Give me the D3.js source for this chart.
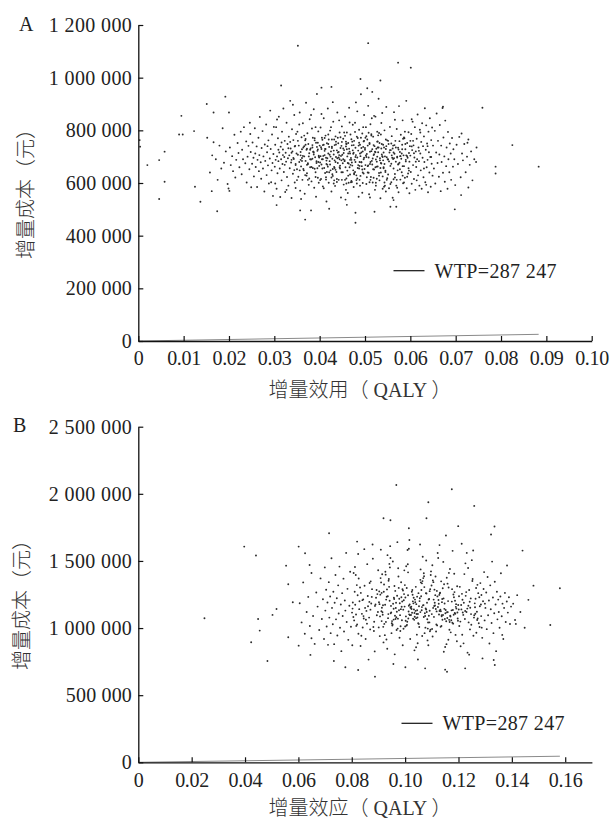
<!DOCTYPE html>
<html>
<head>
<meta charset="utf-8">
<script src="https://cdn.jsdelivr.net/npm/d3@7"></script>
<style>
  body { margin: 0; background: #fff; }
</style>
</head>
<body>
<script>
// willingness-to-pay threshold (yuan per QALY)
const wtp = 287247;

// tick values
const ticksXA = [0, 0.01, 0.02, 0.03, 0.04, 0.05, 0.06, 0.07, 0.08, 0.09, 0.1];
const ticksYA = [0, 200000, 400000, 600000, 800000, 1000000, 1200000];
const ticksXB = [0, 0.02, 0.04, 0.06, 0.08, 0.1, 0.12, 0.14, 0.16];
const ticksYB = [0, 500000, 1000000, 1500000, 2000000, 2500000];

// panel A: [incremental utility (QALY), incremental cost (thousand yuan)]
const pointsA = [
  [0.0352,1121],[0.0507,1131],[0.0573,1057],[0.0601,1038],[0.0490,995],[0.0534,989],[0.0315,970],[0.0505,960],[0.0426,965],[0.0404,962],
  [0.0192,928],[0.0151,900],[0.0759,886],[0.0672,890],[0.0095,855],[0.0166,868],[0.0200,868],[0.0123,797],[0.0090,784],[0.0098,784],
  [0.0825,744],[0.0713,788],[0.0726,753],[0.0745,680],[0.0883,662],[0.0788,662],[0.0788,636],[0.0728,583],[0.0712,554],[0.0698,500],
  [0.0020,668],[0.0004,738],[0.0003,763],[0.0058,719],[0.0046,687],[0.0058,605],[0.0046,539],[0.0125,586],[0.0137,529],[0.0174,493],
  [0.0162,569],[0.0199,579],[0.0201,570],[0.0368,461],[0.0479,449],[0.0479,487],[0.0381,496],[0.0357,496],[0.0421,502],[0.0460,517],
  [0.0521,491],[0.0556,510],[0.0569,510],[0.0563,535],[0.0305,516],
  [0.0152,772],[0.0158,640],[0.0163,705],[0.0166,755],[0.0171,690],[0.0175,612],[0.0179,742],[0.0183,655],[0.0186,808],[0.0189,677],[0.0193,720],[0.0197,596],
  [0.0202,735],[0.0204,668],[0.0207,702],[0.0209,645],[0.0212,783],[0.0214,621],[0.0216,688],[0.0219,752],[0.0221,714],[0.0223,660],[0.0226,795],[0.0228,633],
  [0.0229,726],[0.0231,690],[0.0233,812],[0.0236,675],[0.0238,758],[0.0239,602],[0.0241,700],[0.0243,741],[0.0245,652],[0.0247,786],[0.0248,718],[0.0249,584],[0.0246,829],
  [0.0251,673],[0.0252,754],[0.0254,696],[0.0255,625],[0.0257,808],[0.0258,712],[0.0259,661],[0.0261,739],[0.0262,585],[0.0263,688],[0.0265,772],[0.0266,645],
  [0.0267,706],[0.0268,851],[0.0270,679],[0.0271,616],[0.0272,733],[0.0274,797],[0.0275,655],[0.0276,701],[0.0278,568],[0.0279,746],[0.0280,684],[0.0282,822],
  [0.0283,630],[0.0284,717],[0.0286,667],[0.0287,762],[0.0288,598],[0.0290,693],[0.0291,875],[0.0292,729],[0.0294,648],[0.0295,784],[0.0296,676],[0.0297,551],
  [0.0298,710],[0.0299,813],[0.0293,603],[0.0285,740],
  [0.0301,662],[0.0302,745],[0.0303,688],[0.0304,812],[0.0305,578],[0.0306,701],[0.0307,637],[0.0308,770],[0.0309,683],[0.0310,852],[0.0311,716],[0.0312,655],
  [0.0313,547],[0.0314,738],[0.0315,690],[0.0316,610],[0.0317,795],[0.0318,672],[0.0319,727],[0.0320,883],[0.0321,642],[0.0322,699],[0.0323,760],[0.0324,566],
  [0.0325,715],[0.0326,681],[0.0327,829],[0.0328,623],[0.0329,748],[0.0330,694],[0.0331,590],[0.0332,776],[0.0333,705],[0.0334,656],[0.0335,912],[0.0336,731],
  [0.0337,678],[0.0338,543],[0.0339,804],[0.0340,720],[0.0341,635],[0.0342,763],[0.0343,691],[0.0344,858],[0.0345,602],[0.0346,741],[0.0347,668],[0.0348,786],
  [0.0349,712],[0.0302,598],[0.0309,726],[0.0316,754],[0.0323,669],[0.0331,732],[0.0338,688],[0.0344,649],[0.0306,841],[0.0327,574],[0.0341,897],[0.0319,706],
  [0.0335,756],[0.0347,581],
  [0.0350,652],[0.0351,795],[0.0352,707],[0.0353,624],[0.0354,742],[0.0355,680],[0.0356,868],[0.0357,571],[0.0358,718],[0.0359,663],[0.0360,774],[0.0361,695],
  [0.0362,612],[0.0363,827],[0.0364,735],[0.0365,648],[0.0366,701],[0.0367,559],[0.0368,762],[0.0369,684],[0.0370,905],[0.0371,726],[0.0372,637],[0.0373,789],
  [0.0374,671],[0.0375,748],[0.0376,593],[0.0377,713],[0.0378,842],[0.0379,660],[0.0380,731],[0.0381,689],[0.0382,606],[0.0383,807],[0.0384,744],[0.0385,657],
  [0.0386,719],[0.0387,880],[0.0388,582],[0.0389,770],[0.0390,698],[0.0391,641],[0.0392,753],[0.0393,676],[0.0394,938],[0.0395,722],[0.0396,620],[0.0397,796],
  [0.0398,704],[0.0399,665],[0.0352,760],[0.0358,688],[0.0363,703],[0.0369,745],[0.0374,612],[0.0379,726],[0.0384,692],[0.0389,654],[0.0394,737],[0.0398,601],
  [0.0355,822],[0.0366,780],[0.0372,669],[0.0381,858],[0.0387,716],[0.0392,548],[0.0397,680],[0.0361,728],[0.0376,701],[0.0385,772],[0.0359,539],[0.0391,812],
  [0.0368,630],[0.0396,753],
  [0.0400,742],[0.0401,678],[0.0402,811],[0.0403,615],[0.0404,729],[0.0405,690],[0.0406,764],[0.0407,587],[0.0408,703],[0.0409,846],[0.0410,657],[0.0411,722],
  [0.0412,638],[0.0413,780],[0.0414,696],[0.0415,530],[0.0416,751],[0.0417,669],[0.0418,883],[0.0419,712],[0.0420,601],[0.0421,737],[0.0422,683],[0.0423,799],
  [0.0424,648],[0.0425,720],[0.0426,568],[0.0427,765],[0.0428,692],[0.0429,627],[0.0430,833],[0.0431,708],[0.0432,661],[0.0433,744],[0.0434,589],[0.0435,777],
  [0.0436,699],[0.0437,642],[0.0438,724],[0.0439,868],[0.0440,676],[0.0441,751],[0.0442,612],[0.0443,706],[0.0444,792],[0.0445,655],[0.0446,733],[0.0447,545],
  [0.0448,686],[0.0449,815],[0.0402,702],[0.0406,655],[0.0411,771],[0.0414,613],[0.0419,748],[0.0423,670],[0.0427,733],[0.0431,598],[0.0436,757],[0.0440,716],
  [0.0444,660],[0.0448,741],[0.0404,862],[0.0409,580],[0.0417,694],[0.0425,812],[0.0433,686],[0.0438,604],[0.0446,774],[0.0413,729],[0.0421,641],[0.0429,907],
  [0.0442,697],[0.0407,744],[0.0435,650],[0.0449,612],[0.0415,672],[0.0432,765],[0.0426,621],[0.0443,838],
  [0.0450,707],[0.0451,641],[0.0452,768],[0.0453,594],[0.0454,725],[0.0455,683],[0.0456,852],[0.0457,660],[0.0458,739],[0.0459,617],[0.0460,792],[0.0461,701],
  [0.0462,562],[0.0463,752],[0.0464,674],[0.0465,886],[0.0466,719],[0.0467,632],[0.0468,784],[0.0469,695],[0.0470,608],[0.0471,743],[0.0472,666],[0.0473,821],
  [0.0474,711],[0.0475,585],[0.0476,760],[0.0477,688],[0.0478,642],[0.0479,734],[0.0480,906],[0.0481,611],[0.0482,776],[0.0483,697],[0.0484,657],[0.0485,723],
  [0.0486,548],[0.0487,802],[0.0488,680],[0.0489,745],[0.0490,627],[0.0491,937],[0.0492,716],[0.0493,664],[0.0494,788],[0.0495,600],[0.0496,737],[0.0497,690],
  [0.0498,858],[0.0499,653],[0.0452,690],[0.0456,612],[0.0460,728],[0.0464,601],[0.0468,669],[0.0472,757],[0.0476,633],[0.0480,706],[0.0484,771],[0.0488,612],
  [0.0492,679],[0.0496,812],[0.0454,792],[0.0458,574],[0.0466,830],[0.0470,688],[0.0474,648],[0.0478,829],[0.0482,598],[0.0486,742],[0.0490,702],[0.0494,563],
  [0.0498,760],[0.0462,676],[0.0471,604],[0.0479,680],[0.0487,655],[0.0495,720],[0.0459,748],[0.0467,712],[0.0483,872],[0.0491,772],[0.0475,715],[0.0457,537],
  [0.0489,590],[0.0497,636],
  [0.0500,733],[0.0501,668],[0.0502,812],[0.0503,596],[0.0504,710],[0.0505,765],[0.0506,640],[0.0507,893],[0.0508,697],[0.0509,557],[0.0510,748],[0.0511,672],
  [0.0512,823],[0.0513,623],[0.0514,721],[0.0515,684],[0.0516,946],[0.0517,602],[0.0518,776],[0.0519,706],[0.0520,651],[0.0521,740],[0.0522,574],[0.0523,852],
  [0.0524,689],[0.0525,730],[0.0526,616],[0.0527,795],[0.0528,663],[0.0529,717],[0.0530,920],[0.0531,638],[0.0532,752],[0.0533,694],[0.0534,542],[0.0535,784],
  [0.0536,674],[0.0537,708],[0.0538,866],[0.0539,625],[0.0540,745],[0.0541,660],[0.0542,586],[0.0543,800],[0.0544,701],[0.0545,647],[0.0546,729],[0.0547,889],
  [0.0548,612],[0.0549,762],[0.0502,705],[0.0506,742],[0.0510,603],[0.0514,780],[0.0518,652],[0.0522,719],[0.0526,681],[0.0530,735],[0.0534,657],[0.0538,702],
  [0.0542,735],[0.0546,568],[0.0504,622],[0.0508,791],[0.0512,680],[0.0516,728],[0.0520,855],[0.0524,590],[0.0528,758],[0.0532,610],[0.0536,828],[0.0540,686],
  [0.0544,590],[0.0548,698],[0.0511,545],[0.0519,620],[0.0527,700],[0.0535,640],[0.0543,672],[0.0507,667],[0.0515,846],[0.0523,660],[0.0531,790],[0.0539,578],
  [0.0547,740],[0.0501,772],
  [0.0550,690],[0.0551,632],[0.0552,748],[0.0553,580],[0.0554,716],[0.0555,813],[0.0556,665],[0.0557,725],[0.0558,603],[0.0559,778],[0.0560,696],[0.0561,544],
  [0.0562,742],[0.0563,655],[0.0564,869],[0.0565,711],[0.0566,621],[0.0567,760],[0.0568,681],[0.0569,590],[0.0570,805],[0.0571,700],[0.0572,648],[0.0573,734],
  [0.0574,565],[0.0575,892],[0.0576,677],[0.0577,718],[0.0578,613],[0.0579,783],[0.0580,692],[0.0581,641],[0.0582,745],[0.0583,838],[0.0584,599],[0.0585,705],
  [0.0586,664],[0.0587,770],[0.0588,620],[0.0589,728],[0.0590,682],[0.0591,912],[0.0592,580],[0.0593,752],[0.0594,696],[0.0595,636],[0.0596,793],[0.0597,714],
  [0.0598,561],[0.0599,740],[0.0553,682],[0.0558,750],[0.0563,614],[0.0568,735],[0.0573,670],[0.0578,702],[0.0583,664],[0.0588,795],[0.0593,624],[0.0598,681],
  [0.0556,596],[0.0561,731],[0.0566,840],[0.0571,582],[0.0576,759],[0.0581,712],[0.0586,602],[0.0591,705],[0.0596,656],[0.0564,694],[0.0574,727],[0.0584,768],
  [0.0600,704],[0.0601,642],[0.0602,786],[0.0603,597],[0.0604,725],[0.0605,833],[0.0606,668],[0.0607,743],[0.0608,615],[0.0609,697],[0.0610,812],[0.0611,574],
  [0.0612,720],[0.0613,661],[0.0614,768],[0.0615,690],[0.0616,860],[0.0617,629],[0.0618,735],[0.0619,683],[0.0620,590],[0.0621,802],[0.0622,712],[0.0623,648],
  [0.0624,756],[0.0625,578],[0.0626,827],[0.0627,696],[0.0628,740],[0.0629,622],[0.0630,777],[0.0631,680],[0.0632,884],[0.0633,603],[0.0634,726],[0.0635,819],
  [0.0636,660],[0.0637,750],[0.0638,688],[0.0639,565],[0.0640,795],[0.0641,717],[0.0642,640],[0.0643,846],[0.0644,699],[0.0645,586],[0.0646,763],[0.0647,673],
  [0.0648,811],[0.0649,628],[0.0606,760],[0.0614,610],[0.0622,792],[0.0630,655],[0.0638,740],[0.0646,699],[0.0603,842],[0.0619,722],[0.0635,593],
  [0.0650,742],[0.0652,655],[0.0654,798],[0.0655,598],[0.0657,716],[0.0658,864],[0.0660,676],[0.0661,760],[0.0663,624],[0.0664,708],[0.0665,820],[0.0667,569],
  [0.0668,742],[0.0669,680],[0.0671,885],[0.0672,639],[0.0673,773],[0.0675,701],[0.0676,605],[0.0677,837],[0.0679,664],[0.0680,735],[0.0682,578],[0.0683,794],
  [0.0684,690],[0.0686,641],[0.0687,750],[0.0689,712],[0.0690,612],[0.0692,771],[0.0694,662],[0.0695,728],[0.0697,690],[0.0699,592],
  [0.0702,745],[0.0705,672],[0.0708,775],[0.0711,622],[0.0714,712],[0.0716,686],[0.0719,748],[0.0722,641],[0.0725,700],[0.0728,765],[0.0731,669],[0.0734,720],
  [0.0737,610],[0.0741,690],[0.0746,735],
  [0.0447,703],[0.0382,661],[0.0519,744],[0.0463,628],[0.0405,772],[0.0551,689],[0.0338,715],[0.0494,651],[0.0427,738],[0.0578,702],
  [0.0361,684],[0.0512,612],[0.0456,779],[0.0399,697],[0.0541,656],[0.0473,724],[0.0416,642],[0.0589,748],[0.0347,672],[0.0503,699],
  [0.0438,615],[0.0529,781],[0.0372,730],[0.0485,668],[0.0566,634],[0.0411,706],[0.0459,749],[0.0535,676],[0.0391,623],[0.0608,713],
  [0.0444,690],[0.0497,758],[0.0356,648],[0.0523,717],[0.0469,603],[0.0420,765],[0.0574,672],[0.0387,708],[0.0508,639],[0.0452,731],
  [0.0546,765],[0.0433,657],[0.0366,740],[0.0489,712],[0.0597,647],[0.0415,685],[0.0531,628],[0.0478,794],[0.0403,736],[0.0559,705],
  [0.0342,695],[0.0466,660],[0.0517,693],[0.0395,656],[0.0440,772],[0.0582,728],[0.0377,617],[0.0500,726],[0.0455,687],[0.0537,748],
  [0.0424,700],[0.0612,681],[0.0369,767],[0.0481,629],[0.0526,662],[0.0409,745],[0.0463,712],[0.0570,612],[0.0393,683],[0.0514,785],
  [0.0448,641],[0.0555,725],[0.0431,723],[0.0350,611],[0.0492,679],[0.0539,699],[0.0418,662],[0.0586,773],[0.0475,744],[0.0384,735],
  [0.0506,664],[0.0459,598],[0.0562,691],[0.0436,746],[0.0401,611],[0.0528,735],[0.0471,678],[0.0358,705],[0.0593,702],[0.0412,729],
  [0.0545,642],[0.0487,753],[0.0445,666],[0.0379,690],[0.0520,709],[0.0603,739],[0.0428,633],[0.0498,696],[0.0551,760],[0.0465,730],
  [0.0389,762],[0.0533,686],[0.0422,707],[0.0577,652],[0.0483,617],[0.0364,653],[0.0510,752],[0.0451,675],[0.0549,618],[0.0407,690],
  [0.0470,766],[0.0524,601],[0.0435,680],[0.0565,744],[0.0396,727],[0.0495,640],[0.0442,718],[0.0590,688],[0.0374,675],[0.0541,716],
  [0.0479,699],[0.0414,622],[0.0516,670],[0.0458,757],[0.0571,697],[0.0429,653],[0.0345,739],[0.0503,778],[0.0461,647],[0.0536,731],
  [0.0398,700],[0.0583,628],[0.0453,714],[0.0488,665],[0.0419,784],[0.0558,673],[0.0371,628],[0.0511,719],[0.0439,694],[0.0600,760],
  [0.0476,637],[0.0527,757],[0.0404,670],[0.0467,688],[0.0543,602],[0.0386,719],[0.0492,733],[0.0432,610],[0.0563,716],[0.0449,756]
];

// panel B: [incremental effect (QALY), incremental cost (thousand yuan)]
const pointsB = [
  [0.0248,1073],[0.0397,1607],[0.0441,1540],[0.0449,1068],[0.0455,981],[0.0423,894],[0.0484,755],[0.0503,1098],[0.0518,1142],[0.0554,1465],
  [0.0562,1326],[0.0562,932],[0.0579,1192],[0.0601,1607],[0.0601,869],[0.0625,1557],[0.0645,800],[0.0642,1470],[0.0649,924],[0.0715,1706],
  [0.0733,755],[0.0776,708],[0.0824,688],[0.0820,1644],[0.0887,638],[0.0919,1818],[0.0945,1803],[0.0967,2066],[0.1014,1744],[0.1087,1937],
  [0.1080,1818],[0.1175,2034],[0.1259,1910],[0.1199,1759],[0.1335,1756],[0.1322,1697],[0.1440,1577],[0.1382,1466],[0.1481,1316],[0.1580,1297],
  [0.1544,1023],[0.1415,1031],[0.1364,949],[0.1332,762],[0.1336,725],[0.1225,700],[0.1157,675],[0.1150,690],[0.1075,700],[0.1001,708],[0.1240,802],
  [0.0605,1185],[0.0612,1042],[0.0618,1340],[0.0624,958],[0.0631,1120],[0.0637,1232],[0.0643,1015],[0.0649,1410],[0.0655,1090],[0.0661,882],
  [0.0667,1265],[0.0672,1160],[0.0678,985],[0.0683,1370],[0.0688,1068],[0.0692,1215],[0.0696,918],[0.0699,1452],
  [0.0701,1130],[0.0704,1285],[0.0706,1012],[0.0709,1190],[0.0711,875],[0.0714,1342],[0.0716,1078],[0.0719,1235],[0.0721,962],[0.0724,1520],
  [0.0726,1150],[0.0729,1028],[0.0731,1270],[0.0734,880],[0.0736,1188],[0.0739,1395],[0.0741,1065],[0.0744,1222],[0.0746,945],[0.0749,1318],
  [0.0751,1108],[0.0754,1458],[0.0756,1002],[0.0759,1175],[0.0761,828],[0.0764,1260],[0.0766,1090],[0.0769,1368],[0.0771,974],[0.0774,1205],
  [0.0776,1130],[0.0779,1560],[0.0781,1045],[0.0784,1292],[0.0787,912],[0.0791,1166],[0.0794,1420],[0.0797,1010],
  [0.0843,1214],[0.0806,1082],[0.0871,1348],[0.0825,958],[0.0889,1176],[0.0812,1455],[0.0857,1033],[0.0834,1262],[0.0898,1120],[0.0802,872],
  [0.0866,1195],[0.0819,1320],[0.0881,1008],[0.0847,1588],[0.0828,1141],[0.0893,1283],[0.0809,1057],[0.0852,918],[0.0875,1232],[0.0838,1106],
  [0.0815,1395],[0.0861,1162],[0.0886,826],[0.0822,1244],[0.0845,1071],[0.0899,1431],[0.0804,1190],[0.0869,990],[0.0831,1302],[0.0855,1128],
  [0.0879,1517],[0.0817,1016],[0.0840,1208],[0.0894,1095],[0.0863,765],[0.0826,1369],[0.0850,1150],[0.0884,1047],[0.0811,1271],[0.0873,1183],
  [0.0836,943],[0.0858,1476],[0.0801,1115],[0.0891,1226],[0.0820,1027],[0.0867,1336],[0.0844,1089],[0.0878,1622],[0.0813,1174],[0.0833,866],
  [0.0896,1253],[0.0853,1062],[0.0807,1410],[0.0870,1137],[0.0829,1200],[0.0883,978],[0.0848,1315],[0.0816,1101],[0.0860,1239],[0.0887,1165],
  [0.0824,1552],[0.0841,1004],[0.0876,1290],[0.0803,1145],[0.0865,1078],
  [0.0937,1104],[0.0912,1262],[0.0968,985],[0.0904,1178],[0.0985,1341],[0.0951,1052],[0.0926,1419],[0.0993,1137],[0.0919,893],[0.0958,1226],
  [0.0944,1610],[0.0973,1070],[0.0901,1005],[0.0989,1198],[0.0932,1288],[0.0965,1149],[0.0908,1372],[0.0979,928],[0.0947,1165],[0.0922,1031],
  [0.0996,1253],[0.0954,1496],[0.0915,1118],[0.0983,1013],[0.0940,1307],[0.0961,804],[0.0929,1212],[0.0975,1384],[0.0906,1087],[0.0987,1159],
  [0.0949,962],[0.0934,1543],[0.0970,1241],[0.0911,1126],[0.0957,1063],[0.0999,1320],[0.0924,947],[0.0966,1188],[0.0943,1452],[0.0981,1096],
  [0.0903,1273],[0.0952,1019],[0.0917,1170],[0.0991,872],[0.0938,1352],[0.0977,1133],[0.0909,1584],[0.0963,1277],[0.0928,1046],[0.0995,1207],
  [0.0946,1110],[0.0914,1401],[0.0972,996],[0.0935,1237],[0.0984,1141],[0.0956,732],[0.0921,1325],[0.0967,1081],[0.0902,1192],[0.0941,1478],
  [0.0988,1058],[0.0959,1216],[0.0930,915],[0.0976,1299],[0.0913,1151],[0.0950,1036],[0.0997,1430],[0.0925,1174],[0.0962,1092],[0.0939,1365],
  [0.0982,978],[0.0907,1249],[0.0969,1122],[0.0945,1522],[0.0918,1009],[0.0992,1280],[0.0955,1181],[0.0933,846],[0.0978,1218],[0.0910,1340],
  [0.0964,1068],[0.0998,1160],[0.0927,1398],[0.0953,1027],[0.0986,1230],[0.0916,1099],[0.0971,1640],[0.0942,1203],[0.0905,940],[0.0960,1313],
  [0.0936,1074],[0.0980,1185],[0.0920,1270],[0.0948,1117],[0.0994,995],[0.0931,1233],[0.0974,1445],[0.0957,1144],[0.0912,1052],[0.0990,1290],
  [0.1037,1212],[0.1008,1047],[0.1071,1386],[0.1052,1163],[0.1019,918],[0.1094,1290],[0.1043,1105],[0.1066,1531],[0.1001,1228],[0.1085,996],
  [0.1024,1142],[0.1059,1340],[0.1012,1071],[0.1078,1260],[0.1047,887],[0.1031,1184],[0.1097,1422],[0.1005,1018],[0.1062,1133],[0.1040,1307],
  [0.1089,1092],[0.1016,1656],[0.1054,1201],[0.1073,962],[0.1028,1248],[0.1081,1120],[0.1010,1475],[0.1049,1036],[0.1067,1169],[0.1035,834],
  [0.1092,1275],[0.1003,1087],[0.1057,1359],[0.1021,1150],[0.1076,1003],[0.1045,1234],[0.1014,1591],[0.1083,1066],[0.1038,1192],[0.1064,941],
  [0.1099,1317],[0.1026,1114],[0.1050,1260],[0.1007,1024],[0.1070,1408],[0.1042,1178],[0.1087,872],[0.1018,1096],[0.1061,1283],[0.1033,1139],
  [0.1079,1503],[0.1002,1055],[0.1055,1222],[0.1095,987],[0.1023,1160],[0.1068,1372],[0.1046,1079],[0.1011,1244],[0.1084,908],[0.1039,1128],
  [0.1058,1437],[0.1029,1199],[0.1091,1042],[0.1006,1298],[0.1074,1110],[0.1048,766],[0.1017,1175],[0.1063,1333],[0.1034,1061],[0.1088,1213],
  [0.1009,1582],[0.1053,1008],[0.1077,1146],[0.1025,1270],[0.1044,951],[0.1096,1395],[0.1013,1123],[0.1060,1237],[0.1036,1084],[0.1082,1188],
  [0.1004,1460],[0.1051,1031],[0.1072,1305],[0.1020,1153],[0.1041,857],[0.1090,1216],[0.1015,1102],[0.1065,1350],[0.1030,1069],[0.1080,1258],
  [0.1056,1622],[0.1000,1012],[0.1069,1171],[0.1027,1284],[0.1093,976],[0.1045,1133],[0.1011,1415],[0.1075,1090],[0.1032,1226],[0.1086,1041],
  [0.1057,1119],[0.1022,1097],[0.1063,1156],[0.1048,1105],[0.1079,1138],[0.1035,1112],[0.1070,1082],[0.1014,1166],[0.1092,1129],[0.1041,1074],
  [0.1148,1183],[0.1106,1342],[0.1173,1058],[0.1121,1236],[0.1189,949],[0.1134,1125],[0.1102,1468],[0.1161,1201],[0.1117,1026],[0.1195,1312],
  [0.1142,1097],[0.1178,1575],[0.1109,1164],[0.1155,880],[0.1130,1259],[0.1186,1112],[0.1114,1384],[0.1167,1045],[0.1139,1217],[0.1101,993],
  [0.1192,1146],[0.1124,1522],[0.1158,1075],[0.1176,1290],[0.1111,1188],[0.1145,823],[0.1183,1229],[0.1127,1101],[0.1164,1411],[0.1136,1015],
  [0.1199,1172],[0.1119,1277],[0.1152,1134],[0.1171,968],[0.1104,1355],[0.1140,1062],[0.1187,1204],[0.1129,1618],[0.1160,1119],[0.1113,1245],
  [0.1180,1033],[0.1146,1326],[0.1123,1157],[0.1194,902],[0.1137,1088],[0.1168,1440],[0.1107,1212],[0.1154,1051],[0.1185,1268],[0.1132,1136],
  [0.1116,974],[0.1175,1197],[0.1143,1493],[0.1100,1104],[0.1163,1302],[0.1197,1071],[0.1126,1181],[0.1150,859],[0.1181,1250],[0.1118,1124],
  [0.1156,1375],[0.1133,1009],[0.1190,1158],[0.1110,1286],[0.1169,1092],[0.1144,1221],[0.1122,1559],[0.1177,1040],[0.1138,1193],[0.1103,937],
  [0.1159,1331],[0.1196,1116],[0.1128,1247],[0.1149,1068],[0.1184,1405],[0.1115,1142],[0.1166,987],[0.1131,1263],[0.1191,1178],[0.1108,1083],
  [0.1153,1690],[0.1174,1132],[0.1120,1020],[0.1141,1296],[0.1188,1107],[0.1125,1209],[0.1162,913],[0.1135,1348],[0.1198,1055],[0.1112,1168],
  [0.1157,1118],[0.1170,1086],[0.1147,1143],[0.1182,1099],[0.1129,1127],[0.1165,1061],[0.1151,1110],[0.1105,1150],[0.1179,1134],[0.1137,1095],
  [0.1242,1196],[0.1207,1048],[0.1271,1322],[0.1225,1127],[0.1289,927],[0.1213,1255],[0.1258,1078],[0.1236,1447],[0.1280,1163],[0.1203,1015],
  [0.1264,1218],[0.1219,886],[0.1294,1291],[0.1247,1104],[0.1231,1560],[0.1276,1036],[0.1210,1172],[0.1253,1366],[0.1285,1089],[0.1227,1240],
  [0.1267,965],[0.1201,1138],[0.1240,1283],[0.1298,1057],[0.1222,1402],[0.1261,1184],[0.1234,817],[0.1278,1229],[0.1216,1116],[0.1250,1506],
  [0.1287,1003],[0.1205,1307],[0.1244,1151],[0.1272,1071],[0.1229,1268],[0.1256,943],[0.1292,1200],[0.1212,1628],[0.1269,1122],[0.1238,1042],
  [0.1282,1335],[0.1220,1189],[0.1259,1095],[0.1208,864],[0.1274,1260],[0.1233,1145],[0.1296,1417],[0.1248,1025],[0.1215,1211],[0.1263,1107],
  [0.1226,1482],[0.1284,1176],[0.1243,990],[0.1202,1237],[0.1270,1060],[0.1252,1351],[0.1218,1098],[0.1290,774],[0.1237,1166],[0.1266,1298],
  [0.1211,1139],[0.1279,1008],[0.1246,1221],[0.1224,1067],[0.1299,1182],[0.1255,1578],[0.1230,1120],[0.1286,1246],[0.1214,950],[0.1262,1155],
  [0.1301,1150],[0.1304,1265],[0.1306,992],[0.1309,1380],[0.1311,1095],[0.1314,1205],[0.1316,885],[0.1319,1318],[0.1321,1140],[0.1324,1038],
  [0.1326,1495],[0.1329,1228],[0.1331,962],[0.1334,1110],[0.1336,1345],[0.1339,1175],[0.1341,828],[0.1344,1270],[0.1346,1065],[0.1349,1212],
  [0.1351,1120],[0.1354,1002],[0.1357,1235],[0.1359,1408],[0.1362,1088],[0.1365,1182],[0.1368,918],[0.1371,1150],[0.1374,1262],[0.1377,1045],
  [0.1381,1198],[0.1385,1115],[0.1389,1230],[0.1393,1030],[0.1397,1160],
  [0.1405,1182],[0.1412,1060],[0.1420,1245],[0.1432,1120],[0.1448,1002],[0.1462,1210]
];

const width = 611,
  height = 820;

const svg = d3
  .select("body")
  .append("svg")
  .attr("width", width)
  .attr("height", height);

const serif = "'Liberation Serif', 'Times New Roman', serif";
const titleFont = "'Liberation Serif', 'Noto Sans CJK SC', sans-serif";

// "1 200 000" style numbers
const costFormat = d3
  .formatLocale({ decimal: ".", thousands: " ", grouping: [3], currency: ["", ""] })
  .format(",");
const effFormat = (d) => (d === 0 ? "0" : d3.format(".2f")(d));

// printed widths of the source typesetting: digits 10px, group gaps 7px, point 5px
function labelWidth(s) {
  let w = 0;
  for (const c of s) w += c === " " ? 7 : c === "." ? 5 : 10;
  return w - 1;
}

function drawPanel(p) {
  const x = d3.scaleLinear().domain(p.xDomain).range([138.3, p.xRight]);
  const y = d3.scaleLinear().domain(p.yDomain).range([p.yBottom, p.yTop]);
  const g = svg.append("g");

  // scatter of simulations
  g.selectAll("circle")
    .data(p.points)
    .join("circle")
    .attr("cx", (d) => x(d[0]))
    .attr("cy", (d) => y(d[1] * 1000))
    .attr("r", 0.95)
    .attr("fill", "#2b2b2b");

  // WTP threshold line, drawn up to the largest effect
  const maxEff = d3.max(p.points, (d) => d[0]);
  g.append("line")
    .attr("x1", x(0))
    .attr("y1", y(0))
    .attr("x2", x(maxEff))
    .attr("y2", y(wtp * maxEff))
    .attr("stroke", "#8a8a8a")
    .attr("stroke-width", 1);

  // y axis, ticks pointing inward
  const yAxis = g
    .append("g")
    .attr("transform", `translate(${x(0)},0)`)
    .call(
      d3.axisLeft(y).tickValues(p.yTicks).tickFormat(costFormat)
        .tickSizeInner(-5).tickSizeOuter(0).tickPadding(6.5)
    );

  // x axis
  const xAxis = g
    .append("g")
    .attr("transform", `translate(0,${y(0)})`)
    .call(
      d3.axisBottom(x).tickValues(p.xTicks).tickFormat(effFormat)
        .tickSizeInner(-5).tickSizeOuter(0).tickPadding(p.xPad)
    );

  [yAxis, xAxis].forEach((a) => {
    a.attr("font-size", 20).attr("font-family", serif);
    a.select(".domain").attr("stroke", "#111").attr("stroke-width", 1.3);
    a.selectAll(".tick line").attr("stroke", "#111").attr("stroke-width", 1.2);
    a.selectAll(".tick text").attr("fill", "#222");
  });

  // stretch multi-digit labels to the printed widths, anchored from their left edge
  yAxis.selectAll(".tick text").each(function () {
    const t = d3.select(this);
    const s = t.text();
    if (s.length < 2) return;
    const w = labelWidth(s);
    t.attr("text-anchor", "start").attr("x", -6.5 - w)
      .attr("textLength", w).attr("lengthAdjust", "spacing");
  });
  xAxis.selectAll(".tick text").each(function () {
    const t = d3.select(this);
    const s = t.text();
    if (s.length < 2) return;
    const w = labelWidth(s);
    t.attr("text-anchor", "start").attr("x", -w / 2)
      .attr("textLength", w).attr("lengthAdjust", "spacing");
  });

  // axis titles
  g.append("text")
    .attr("transform", `translate(${p.yTitleX},${p.yTitleY}) rotate(-90)`)
    .attr("text-anchor", "middle")
    .attr("dominant-baseline", "central")
    .attr("font-family", titleFont)
    .attr("font-weight", 300)
    .attr("font-size", 20)
    .attr("fill", "#333")
    .text("增量成本（元）");

  g.append("text")
    .attr("x", 360)
    .attr("y", p.xTitleY)
    .attr("text-anchor", "middle")
    .attr("font-family", titleFont)
    .attr("font-weight", 300)
    .attr("font-size", 20)
    .attr("fill", "#333")
    .text(p.xTitle);

  // panel letter
  g.append("text")
    .attr("x", p.labelX)
    .attr("y", p.labelY)
    .attr("font-family", serif)
    .attr("font-size", 20)
    .attr("fill", "#222")
    .text(p.label);

  // legend
  g.append("line")
    .attr("x1", p.legX)
    .attr("x2", p.legX + 31)
    .attr("y1", p.legY)
    .attr("y2", p.legY)
    .attr("stroke", "#111")
    .attr("stroke-width", 1.2);

  g.append("text")
    .attr("x", p.legX + 41)
    .attr("y", p.legY + 7)
    .attr("font-family", serif)
    .attr("font-size", 20)
    .attr("fill", "#222")
    .attr("textLength", 122)
    .attr("lengthAdjust", "spacing")
    .text("WTP=287 247");
}

drawPanel({
  label: "A", labelX: 19, labelY: 31,
  points: pointsA,
  xDomain: [0, 0.1], xRight: 591.7, xTicks: ticksXA, xPad: 9.8,
  yDomain: [0, 1200000], yBottom: 341, yTop: 25, yTicks: ticksYA,
  yTitleX: 25.5, yTitleY: 189,
  xTitle: "增量效用（ QALY ）", xTitleY: 397,
  legX: 393.5, legY: 270.7
});

drawPanel({
  label: "B", labelX: 13, labelY: 432,
  points: pointsB,
  xDomain: [0, 0.17], xRight: 591.9, xTicks: ticksXB, xPad: 10.3,
  yDomain: [0, 2500000], yBottom: 762.3, yTop: 426.7, yTicks: ticksYB,
  yTitleX: 21.5, yTitleY: 600,
  xTitle: "增量效应（ QALY ）", xTitleY: 815,
  legX: 401.5, legY: 723.3
});
</script>
</body>
</html>
